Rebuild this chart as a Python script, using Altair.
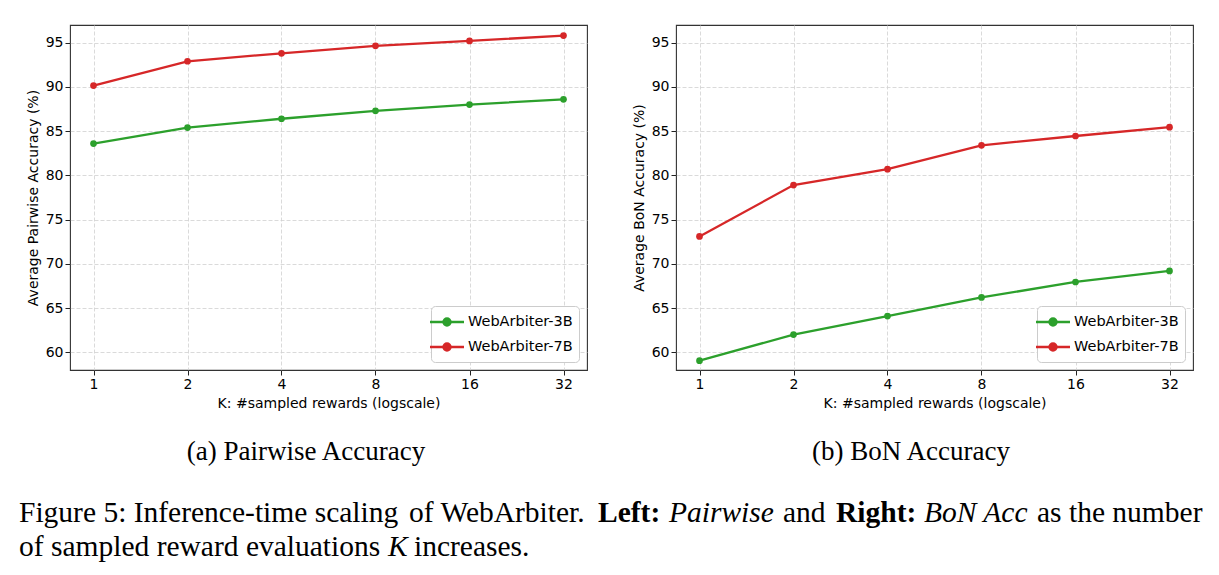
import altair as alt
import pandas as pd

# ---- data -------------------------------------------------------------
K_VALUES = [1, 2, 4, 8, 16, 32]
MODELS = ["WebArbiter-3B", "WebArbiter-7B"]
MODEL_COLORS = ["#2ca02c", "#d62728"]

PAIRWISE_3B = [83.6, 85.4, 86.4, 87.3, 88.0, 88.6]
PAIRWISE_7B = [90.15, 92.9, 93.8, 94.65, 95.2, 95.8]
BON_3B = [59.05, 62.0, 64.1, 66.2, 67.95, 69.2]
BON_7B = [73.1, 78.9, 80.7, 83.4, 84.45, 85.45]

Y_TICKS = [60, 65, 70, 75, 80, 85, 90, 95]

SUBCAPTIONS = ["(a) Pairwise Accuracy", "(b) BoN Accuracy"]
CAPTION_LINE1 = [
    ("Figure 5: Inference-time scaling", "normal", "normal"),
    ("of WebArbiter.", "normal", "normal"),
    ("Left:", "bold", "normal"),
    ("Pairwise", "normal", "italic"),
    ("and", "normal", "normal"),
    ("Right:", "bold", "normal"),
    ("BoN Acc", "normal", "italic"),
    ("as the number", "normal", "normal"),
]
CAPTION_LINE2 = [
    ("of sampled reward evaluations", "normal", "normal"),
    ("K", "normal", "italic"),
    ("increases.", "normal", "normal"),
]

# ---- layout (pixels) ----------------------------------------------------
SANS = "DejaVu Sans"
SERIF = "Liberation Serif"
PLOT_W, PLOT_H = 517, 345
PLOT_LEFT, PLOT_TOP = 69, 24          # origin of the left panel
PANEL_GAP = 89                        # gap between the two plot areas
SUBCAPTION_BASELINE = 459
SUBCAPTION_CENTER = [236, 235]        # relative to each plot's left edge
CAPTION_X1 = [18, 408, 597, 668, 782, 835, 923, 1036]
CAPTION_X2 = [18, 387, 413]
CAPTION_BASELINES = [521, 555]
CAPTION_SIZE = 29.5

# line with a dot in the middle, like a matplotlib legend handle
LEGEND_SYMBOL = "M-2,0L2,0M0.42,0A0.42,0.42 0 1 1 -0.42,0A0.42,0.42 0 1 1 0.42,0Z"


def long_table(series_3b, series_7b):
    rows = []
    for name, vals in zip(MODELS, [series_3b, series_7b]):
        for k, v in zip(K_VALUES, vals):
            rows.append({"K": k, "acc": v, "model": name})
    return pd.DataFrame(rows)


def text_layer(txt, x, y, size, weight="normal", style="normal", align="left"):
    return (
        alt.Chart(pd.DataFrame({"t": [txt]}))
        .mark_text(
            align=align,
            baseline="alphabetic",
            font=SERIF,
            fontSize=size,
            fontWeight=weight,
            fontStyle=style,
            color="black",
        )
        .encode(x=alt.value(x), y=alt.value(y), text="t:N")
    )


def panel(df, y_title, subcaption, sub_center, extra_layers=()):
    x = alt.X(
        "K:Q",
        scale=alt.Scale(type="log", base=2, domain=[2 ** -0.25, 2 ** 5.25], nice=False),
        axis=alt.Axis(values=K_VALUES, format="d", title="K: #sampled rewards (logscale)"),
    )
    y = alt.Y(
        "acc:Q",
        scale=alt.Scale(domain=[58, 97], nice=False, zero=False),
        axis=alt.Axis(values=Y_TICKS, title=y_title),
    )
    color = alt.Color(
        "model:N",
        scale=alt.Scale(domain=MODELS, range=MODEL_COLORS),
        legend=alt.Legend(
            title=None,
            orient="bottom-right",
            offset=8,
            padding=6,
            fillColor="white",
            strokeColor="#cccccc",
            cornerRadius=4,
            symbolType=LEGEND_SYMBOL,
            symbolSize=289,
            symbolStrokeWidth=2.3,
            labelFont=SANS,
            labelFontSize=14.5,
            labelColor="black",
            labelOffset=11,
            rowPadding=6,
        ),
    )
    base = alt.Chart(df).encode(x=x, y=y, color=color)
    lines = base.mark_line(strokeWidth=2.3)
    dots = base.mark_point(filled=True, size=45, opacity=1)
    sub = text_layer(
        subcaption, sub_center, SUBCAPTION_BASELINE - PLOT_TOP, 27, align="center"
    )
    return alt.layer(lines, dots, sub, *extra_layers).properties(
        width=PLOT_W, height=PLOT_H
    )


# figure caption, drawn from the left panel's coordinate frame
caption_layers = []
for (txt, w, s), xp in zip(CAPTION_LINE1, CAPTION_X1):
    caption_layers.append(
        text_layer(txt, xp - PLOT_LEFT, CAPTION_BASELINES[0] - PLOT_TOP, CAPTION_SIZE, w, s)
    )
for (txt, w, s), xp in zip(CAPTION_LINE2, CAPTION_X2):
    caption_layers.append(
        text_layer(txt, xp - PLOT_LEFT, CAPTION_BASELINES[1] - PLOT_TOP, CAPTION_SIZE, w, s)
    )

left = panel(
    long_table(PAIRWISE_3B, PAIRWISE_7B),
    "Average Pairwise Accuracy (%)",
    SUBCAPTIONS[0],
    SUBCAPTION_CENTER[0],
    caption_layers,
)
right = panel(
    long_table(BON_3B, BON_7B),
    "Average BoN Accuracy (%)",
    SUBCAPTIONS[1],
    SUBCAPTION_CENTER[1],
)

chart = (
    alt.hconcat(left, right, spacing=PANEL_GAP, bounds="flush")
    .resolve_scale(color="independent")
    .resolve_legend(color="independent")
    .properties(padding={"left": 18, "top": PLOT_TOP, "right": 0, "bottom": 0})
    .configure(background="white")
    .configure_view(stroke="#333333", strokeWidth=1.1)
    .configure_axis(
        labelFont=SANS,
        labelFontSize=14,
        labelColor="black",
        titleFont=SANS,
        titleFontSize=14,
        titleFontWeight="normal",
        titleColor="black",
        tickColor="#222222",
        tickSize=5,
        labelPadding=2,
        domain=False,
        grid=True,
        gridColor="#d0d0d0",
        gridDash=[4, 2],
        gridWidth=0.8,
    )
    .configure_axisX(titlePadding=5)
    .configure_axisY(titlePadding=5)
)

chart.save("out.html", embed_options={"renderer": "svg", "actions": False})
